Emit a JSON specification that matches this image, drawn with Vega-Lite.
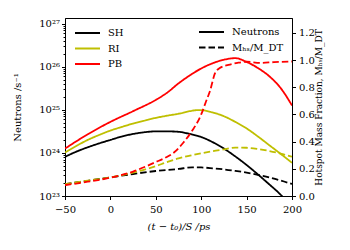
{
  "$schema": "https://vega.github.io/schema/vega-lite/v6.json",
  "autosize": "none",
  "width": 227,
  "height": 178,
  "padding": {"left": 65, "top": 18, "right": 58, "bottom": 54},
  "config": {
    "font": "DejaVu Serif",
    "view": {"stroke": "black", "strokeWidth": 1},
    "axis": {"grid": false, "domainColor": "black", "tickColor": "black", "labelColor": "black", "titleColor": "black", "labelFontSize": 10, "titleFontSize": 10, "titleFontWeight": "normal", "tickSize": 3.5, "labelFont": "DejaVu Serif", "titleFont": "DejaVu Serif"},
    "legend": {"labelFont": "DejaVu Serif", "labelFontSize": 10, "symbolType": "M-1,0H4", "symbolStrokeWidth": 2, "symbolSize": 100, "padding": 0, "rowPadding": 4.5, "labelOffset": 22}
  },
  "data": {"values": [
    {"x": -50, "case": "SH", "kind": "Neutrons", "v": 8.1e23},
    {"x": -37.5, "case": "SH", "kind": "Neutrons", "v": 1.07e24},
    {"x": -25, "case": "SH", "kind": "Neutrons", "v": 1.35e24},
    {"x": -12.5, "case": "SH", "kind": "Neutrons", "v": 1.66e24},
    {"x": 0, "case": "SH", "kind": "Neutrons", "v": 2.0e24},
    {"x": 12.5, "case": "SH", "kind": "Neutrons", "v": 2.4e24},
    {"x": 25, "case": "SH", "kind": "Neutrons", "v": 2.75e24},
    {"x": 37.5, "case": "SH", "kind": "Neutrons", "v": 3.02e24},
    {"x": 50, "case": "SH", "kind": "Neutrons", "v": 3.16e24},
    {"x": 62.5, "case": "SH", "kind": "Neutrons", "v": 3.16e24},
    {"x": 75, "case": "SH", "kind": "Neutrons", "v": 3.09e24},
    {"x": 87.5, "case": "SH", "kind": "Neutrons", "v": 2.75e24},
    {"x": 100, "case": "SH", "kind": "Neutrons", "v": 2.34e24},
    {"x": 112.5, "case": "SH", "kind": "Neutrons", "v": 1.78e24},
    {"x": 125, "case": "SH", "kind": "Neutrons", "v": 1.26e24},
    {"x": 137.5, "case": "SH", "kind": "Neutrons", "v": 8.3e23},
    {"x": 150, "case": "SH", "kind": "Neutrons", "v": 5.25e23},
    {"x": 162.5, "case": "SH", "kind": "Neutrons", "v": 3.16e23},
    {"x": 175, "case": "SH", "kind": "Neutrons", "v": 1.86e23},
    {"x": 187.5, "case": "SH", "kind": "Neutrons", "v": 1.07e23},
    {"x": 195, "case": "SH", "kind": "Neutrons", "v": 7.1e22},

    {"x": -50, "case": "RI", "kind": "Neutrons", "v": 1.02e24},
    {"x": -37.5, "case": "RI", "kind": "Neutrons", "v": 1.45e24},
    {"x": -25, "case": "RI", "kind": "Neutrons", "v": 2.0e24},
    {"x": -12.5, "case": "RI", "kind": "Neutrons", "v": 2.6e24},
    {"x": 0, "case": "RI", "kind": "Neutrons", "v": 3.3e24},
    {"x": 12.5, "case": "RI", "kind": "Neutrons", "v": 4.0e24},
    {"x": 25, "case": "RI", "kind": "Neutrons", "v": 4.8e24},
    {"x": 37.5, "case": "RI", "kind": "Neutrons", "v": 5.6e24},
    {"x": 50, "case": "RI", "kind": "Neutrons", "v": 6.5e24},
    {"x": 62.5, "case": "RI", "kind": "Neutrons", "v": 7.3e24},
    {"x": 75, "case": "RI", "kind": "Neutrons", "v": 8.1e24},
    {"x": 87.5, "case": "RI", "kind": "Neutrons", "v": 9.3e24},
    {"x": 95, "case": "RI", "kind": "Neutrons", "v": 9.8e24},
    {"x": 100, "case": "RI", "kind": "Neutrons", "v": 9.8e24},
    {"x": 112.5, "case": "RI", "kind": "Neutrons", "v": 8.7e24},
    {"x": 125, "case": "RI", "kind": "Neutrons", "v": 7.1e24},
    {"x": 137.5, "case": "RI", "kind": "Neutrons", "v": 5.25e24},
    {"x": 150, "case": "RI", "kind": "Neutrons", "v": 3.7e24},
    {"x": 162.5, "case": "RI", "kind": "Neutrons", "v": 2.4e24},
    {"x": 175, "case": "RI", "kind": "Neutrons", "v": 1.51e24},
    {"x": 187.5, "case": "RI", "kind": "Neutrons", "v": 9.5e23},
    {"x": 200, "case": "RI", "kind": "Neutrons", "v": 5.9e23},

    {"x": -50, "case": "PB", "kind": "Neutrons", "v": 1.26e24},
    {"x": -25, "case": "PB", "kind": "Neutrons", "v": 2.7e24},
    {"x": 0, "case": "PB", "kind": "Neutrons", "v": 5.25e24},
    {"x": 25, "case": "PB", "kind": "Neutrons", "v": 9.3e24},
    {"x": 50, "case": "PB", "kind": "Neutrons", "v": 1.7e25},
    {"x": 62.5, "case": "PB", "kind": "Neutrons", "v": 2.5e25},
    {"x": 75, "case": "PB", "kind": "Neutrons", "v": 4.1e25},
    {"x": 87.5, "case": "PB", "kind": "Neutrons", "v": 6.3e25},
    {"x": 100, "case": "PB", "kind": "Neutrons", "v": 9.1e25},
    {"x": 112.5, "case": "PB", "kind": "Neutrons", "v": 1.2e26},
    {"x": 125, "case": "PB", "kind": "Neutrons", "v": 1.45e26},
    {"x": 137.5, "case": "PB", "kind": "Neutrons", "v": 1.58e26},
    {"x": 150, "case": "PB", "kind": "Neutrons", "v": 1.29e26},
    {"x": 162.5, "case": "PB", "kind": "Neutrons", "v": 9.3e25},
    {"x": 175, "case": "PB", "kind": "Neutrons", "v": 6.0e25},
    {"x": 187.5, "case": "PB", "kind": "Neutrons", "v": 3.2e25},
    {"x": 200, "case": "PB", "kind": "Neutrons", "v": 1.26e25},

    {"x": -50, "case": "SH", "kind": "M_hs/M_DT", "v": 0.088},
    {"x": -25, "case": "SH", "kind": "M_hs/M_DT", "v": 0.112},
    {"x": 0, "case": "SH", "kind": "M_hs/M_DT", "v": 0.137},
    {"x": 25, "case": "SH", "kind": "M_hs/M_DT", "v": 0.162},
    {"x": 50, "case": "SH", "kind": "M_hs/M_DT", "v": 0.184},
    {"x": 75, "case": "SH", "kind": "M_hs/M_DT", "v": 0.199},
    {"x": 90, "case": "SH", "kind": "M_hs/M_DT", "v": 0.211},
    {"x": 100, "case": "SH", "kind": "M_hs/M_DT", "v": 0.21},
    {"x": 112.5, "case": "SH", "kind": "M_hs/M_DT", "v": 0.204},
    {"x": 125, "case": "SH", "kind": "M_hs/M_DT", "v": 0.196},
    {"x": 137.5, "case": "SH", "kind": "M_hs/M_DT", "v": 0.185},
    {"x": 150, "case": "SH", "kind": "M_hs/M_DT", "v": 0.172},
    {"x": 162.5, "case": "SH", "kind": "M_hs/M_DT", "v": 0.156},
    {"x": 175, "case": "SH", "kind": "M_hs/M_DT", "v": 0.137},
    {"x": 187.5, "case": "SH", "kind": "M_hs/M_DT", "v": 0.114},
    {"x": 200, "case": "SH", "kind": "M_hs/M_DT", "v": 0.088},

    {"x": -50, "case": "RI", "kind": "M_hs/M_DT", "v": 0.088},
    {"x": -25, "case": "RI", "kind": "M_hs/M_DT", "v": 0.113},
    {"x": 0, "case": "RI", "kind": "M_hs/M_DT", "v": 0.137},
    {"x": 25, "case": "RI", "kind": "M_hs/M_DT", "v": 0.172},
    {"x": 50, "case": "RI", "kind": "M_hs/M_DT", "v": 0.22},
    {"x": 62.5, "case": "RI", "kind": "M_hs/M_DT", "v": 0.25},
    {"x": 75, "case": "RI", "kind": "M_hs/M_DT", "v": 0.277},
    {"x": 87.5, "case": "RI", "kind": "M_hs/M_DT", "v": 0.297},
    {"x": 100, "case": "RI", "kind": "M_hs/M_DT", "v": 0.314},
    {"x": 112.5, "case": "RI", "kind": "M_hs/M_DT", "v": 0.33},
    {"x": 125, "case": "RI", "kind": "M_hs/M_DT", "v": 0.343},
    {"x": 137.5, "case": "RI", "kind": "M_hs/M_DT", "v": 0.356},
    {"x": 150, "case": "RI", "kind": "M_hs/M_DT", "v": 0.355},
    {"x": 162.5, "case": "RI", "kind": "M_hs/M_DT", "v": 0.346},
    {"x": 175, "case": "RI", "kind": "M_hs/M_DT", "v": 0.331},
    {"x": 187.5, "case": "RI", "kind": "M_hs/M_DT", "v": 0.312},
    {"x": 200, "case": "RI", "kind": "M_hs/M_DT", "v": 0.289},

    {"x": -50, "case": "PB", "kind": "M_hs/M_DT", "v": 0.08},
    {"x": -25, "case": "PB", "kind": "M_hs/M_DT", "v": 0.105},
    {"x": 0, "case": "PB", "kind": "M_hs/M_DT", "v": 0.135},
    {"x": 25, "case": "PB", "kind": "M_hs/M_DT", "v": 0.18},
    {"x": 40, "case": "PB", "kind": "M_hs/M_DT", "v": 0.22},
    {"x": 50, "case": "PB", "kind": "M_hs/M_DT", "v": 0.25},
    {"x": 60, "case": "PB", "kind": "M_hs/M_DT", "v": 0.28},
    {"x": 70, "case": "PB", "kind": "M_hs/M_DT", "v": 0.32},
    {"x": 80, "case": "PB", "kind": "M_hs/M_DT", "v": 0.39},
    {"x": 90, "case": "PB", "kind": "M_hs/M_DT", "v": 0.48},
    {"x": 100, "case": "PB", "kind": "M_hs/M_DT", "v": 0.6},
    {"x": 105, "case": "PB", "kind": "M_hs/M_DT", "v": 0.69},
    {"x": 110, "case": "PB", "kind": "M_hs/M_DT", "v": 0.78},
    {"x": 115, "case": "PB", "kind": "M_hs/M_DT", "v": 0.9},
    {"x": 120, "case": "PB", "kind": "M_hs/M_DT", "v": 0.94},
    {"x": 130, "case": "PB", "kind": "M_hs/M_DT", "v": 0.965},
    {"x": 140, "case": "PB", "kind": "M_hs/M_DT", "v": 0.98},
    {"x": 150, "case": "PB", "kind": "M_hs/M_DT", "v": 0.988},
    {"x": 165, "case": "PB", "kind": "M_hs/M_DT", "v": 0.98},
    {"x": 180, "case": "PB", "kind": "M_hs/M_DT", "v": 0.985},
    {"x": 200, "case": "PB", "kind": "M_hs/M_DT", "v": 0.99}
  ]},
  "encoding": {
    "x": {"field": "x", "type": "quantitative", "scale": {"domain": [-50, 200], "nice": false},
      "axis": {"values": [-50, 0, 50, 100, 150, 200], "title": "(t − t₀)/S   /ps", "titleFontStyle": "italic", "labelPadding": 5, "titlePadding": 7, "labelFlush": false}},
    "color": {"field": "case", "type": "nominal", "scale": {"domain": ["SH", "RI", "PB"], "range": ["#000000", "#bfbf00", "#ff0000"]},
      "legend": {"title": null, "orient": "top-left", "offset": 9}},
    "strokeDash": {"field": "kind", "type": "nominal", "scale": {"domain": ["Neutrons", "M_hs/M_DT"], "range": [[1, 0], [6.5, 3]]},
      "legend": {"title": null, "orient": "top-right", "offset": 8, "symbolStrokeColor": "black", "labelExpr": "datum.label == 'Neutrons' ? 'Neutrons' : 'Mₕₛ/M_DT'"}}
  },
  "layer": [
    {
      "transform": [{"filter": "datum.kind == 'Neutrons'"}],
      "mark": {"type": "line", "strokeWidth": 1.8, "interpolate": "monotone", "clip": true},
      "encoding": {
        "y": {"field": "v", "type": "quantitative", "scale": {"type": "log", "domain": [1e23, 1.35e27], "nice": false},
          "axis": {"orient": "left", "title": "Neutrons /s⁻¹", "titlePadding": 16, "labelOverlap": false,
            "values": [1e23, 2e23, 3e23, 4e23, 5e23, 6e23, 7e23, 8e23, 9e23, 1e24, 2e24, 3e24, 4e24, 5e24, 6e24, 7e24, 8e24, 9e24, 1e25, 2e25, 3e25, 4e25, 5e25, 6e25, 7e25, 8e25, 9e25, 1e26, 2e26, 3e26, 4e26, 5e26, 6e26, 7e26, 8e26, 9e26, 1e27],
            "labelExpr": "datum.value==1e23?'10²³':datum.value==1e24?'10²⁴':datum.value==1e25?'10²⁵':datum.value==1e26?'10²⁶':datum.value==1e27?'10²⁷':''",
            "tickSize": {"condition": {"test": "datum.value==1e23||datum.value==1e24||datum.value==1e25||datum.value==1e26||datum.value==1e27", "value": 3.5}, "value": 2},
            "labelPadding": 2}}
      }
    },
    {
      "transform": [{"filter": "datum.kind != 'Neutrons'"}],
      "mark": {"type": "line", "strokeWidth": 1.8, "interpolate": "monotone", "clip": true},
      "encoding": {
        "y": {"field": "v", "type": "quantitative", "scale": {"domain": [0, 1.31], "nice": false},
          "axis": {"orient": "right", "title": "Hotspot Mass Fraction, Mₕₛ/M_DT", "titleAngle": 270, "titleFontSize": 9, "titlePadding": 9, "values": [0, 0.2, 0.4, 0.6, 0.8, 1.0, 1.2], "format": ".1f", "labelPadding": 3}}
      }
    }
  ],
  "resolve": {"scale": {"y": "independent"}}
}
